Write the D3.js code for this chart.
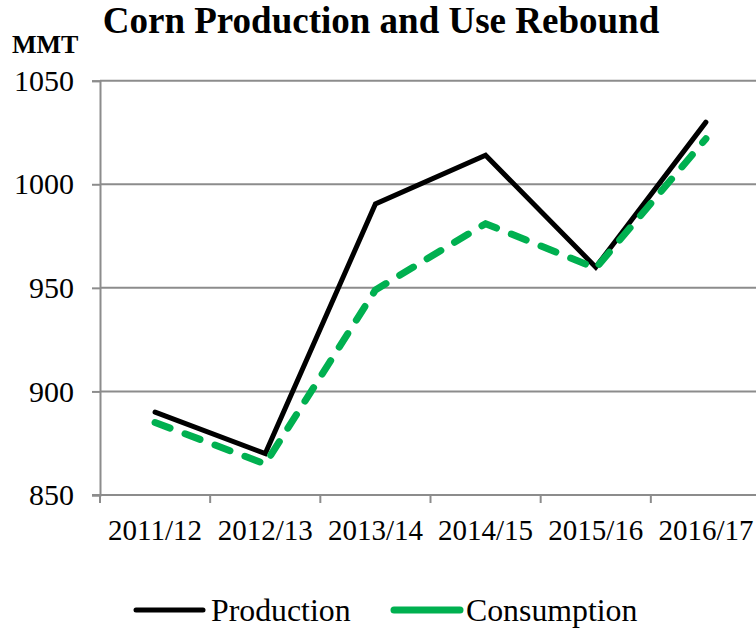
<!DOCTYPE html>
<html><head><meta charset="utf-8">
<script src="https://cdn.jsdelivr.net/npm/d3@7"></script>
<style>body{margin:0;background:#fff}svg{display:block}</style>
</head><body>
<svg id="c" width="756" height="628"></svg>
<script>
const categories = ["2011/12","2012/13","2013/14","2014/15","2015/16","2016/17"];
const production = [890, 870, 990.5, 1014, 960, 1030];
const consumption = [885, 865, 949, 981, 959.5, 1022];
const yTicks = [850, 900, 950, 1000, 1050];
const seriesNames = ["Production","Consumption"];
const title = "Corn Production and Use Rebound";
const unit = "MMT";

(function(){
const svg = d3.select("#c");
const serif = "'Liberation Serif','Times New Roman',serif";
const pLeft = 100, pRight = 761, pTop = 80.7, pBottom = 495;
const x = d3.scaleBand().domain(categories).range([pLeft, pRight]);
const y = d3.scaleLinear().domain([850, 1050]).range([pBottom, pTop]);
const grid = "#8c8c8c";

// gridlines
svg.append("g").selectAll("line").data(yTicks.slice(1)).join("line")
  .attr("x1", pLeft).attr("x2", 756).attr("y1", d => y(d)).attr("y2", d => y(d))
  .attr("stroke", grid).attr("stroke-width", 2);

// y axis
const ya = svg.append("g").attr("transform", `translate(${pLeft},0)`)
  .call(d3.axisLeft(y).tickValues(yTicks).tickSize(8).tickPadding(18).tickFormat(d3.format("d")));
ya.attr("font-family", serif);
ya.select(".domain").attr("stroke", grid).attr("stroke-width", 2);
ya.selectAll(".tick line").attr("stroke", grid).attr("stroke-width", 2);
ya.selectAll("text").attr("font-family", serif).attr("font-size", 30).attr("fill", "#000").attr("dy", "0.32em");

// x axis
const xa = svg.append("g").attr("transform", `translate(0,${pBottom})`)
  .call(d3.axisBottom(x).tickSize(0).tickPadding(0));
xa.attr("font-family", serif);
xa.select(".domain").remove();
xa.selectAll("text").attr("font-family", serif).attr("font-size", 29).attr("fill", "#000")
  .attr("dy", 0).attr("y", 45);
svg.append("line").attr("x1", pLeft - 8).attr("x2", 756).attr("y1", pBottom).attr("y2", pBottom)
  .attr("stroke", grid).attr("stroke-width", 2);
const bounds = categories.map(c => x(c)).concat([x(categories[categories.length-1]) + x.bandwidth()]);
svg.append("g").selectAll("line").data(bounds.filter(b => b < 756)).join("line")
  .attr("x1", d => d).attr("x2", d => d).attr("y1", pBottom).attr("y2", pBottom + 8)
  .attr("stroke", grid).attr("stroke-width", 2);

const cx = c => x(c) + x.bandwidth() / 2;
const line = vals => d3.line().x((d, i) => cx(categories[i])).y(d => y(d))(vals);

svg.append("path").attr("d", line(production)).attr("fill", "none")
  .attr("stroke", "#000").attr("stroke-width", 5).attr("stroke-linejoin", "miter").attr("stroke-linecap", "round");
svg.append("path").attr("d", line(consumption)).attr("fill", "none")
  .attr("stroke", "#00B050").attr("stroke-width", 7).attr("stroke-linecap", "round")
  .attr("stroke-dasharray", "16,16").attr("stroke-linejoin", "round");

// title
svg.append("text").attr("x", 381).attr("y", 33).attr("text-anchor", "middle")
  .attr("font-family", serif).attr("font-weight", "bold").attr("font-size", 37).text(title);
svg.append("text").attr("x", 12).attr("y", 53)
  .attr("font-family", serif).attr("font-weight", "bold").attr("font-size", 26).text(unit);

// legend
const leg = svg.append("g");
leg.append("line").attr("x1", 136).attr("x2", 203).attr("y1", 610).attr("y2", 610)
  .attr("stroke", "#000").attr("stroke-width", 5).attr("stroke-linecap", "round");
leg.append("text").attr("x", 211).attr("y", 621).attr("font-family", serif).attr("font-size", 31.8).text(seriesNames[0]);
leg.append("line").attr("x1", 394).attr("x2", 460).attr("y1", 610).attr("y2", 610)
  .attr("stroke", "#00B050").attr("stroke-width", 7).attr("stroke-linecap", "round");
leg.append("text").attr("x", 466).attr("y", 621).attr("font-family", serif).attr("font-size", 31.8).text(seriesNames[1]);
})();
</script>
</body></html>
